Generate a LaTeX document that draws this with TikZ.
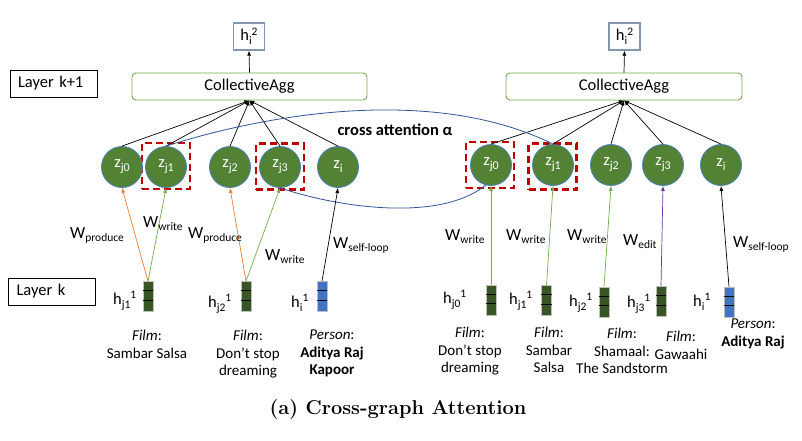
\documentclass[tikz,border=0pt]{standalone}
\usepackage{fontspec}
\newfontfamily\calfont{Carlito}
\usetikzlibrary{arrows.meta,calc}
\definecolor{zgreen}{HTML}{548235}
\definecolor{zborder}{HTML}{4A7EBB}
\definecolor{bargreen}{HTML}{375623}
\definecolor{barblue}{HTML}{4472C4}
\definecolor{agggreen}{HTML}{70AD47}
\definecolor{arrorange}{HTML}{ED7D31}
\definecolor{arrgreen}{HTML}{70AD47}
\definecolor{arrpurple}{HTML}{7030A0}
\definecolor{dashred}{HTML}{C00000}
\definecolor{curveblue}{HTML}{2F5597}
\definecolor{hboxgray}{HTML}{8497B0}
\newcommand{\Wlab}[1]{{\fontsize{17}{17}\selectfont W}\raisebox{-3.5pt}{\fontsize{11.5}{11.5}\selectfont #1}}
\newcommand{\zlab}[1]{{\fontsize{16.5}{16.5}\selectfont z}\raisebox{-4pt}{\fontsize{12}{12}\selectfont #1}}
\newcommand{\hlab}[2]{{\fontsize{16.5}{16.5}\selectfont h}\raisebox{-4pt}{\fontsize{11.5}{11.5}\selectfont #1}\raisebox{5.5pt}{\fontsize{11.5}{11.5}\selectfont #2}}
\tikzset{
  every node/.style={font=\calfont},
  layerbox/.style={draw=black, line width=0.9pt, minimum height=27pt, text width=71pt, inner xsep=8pt, align=left, font=\calfont\fontsize{16.5}{18}\selectfont},
  aggbox/.style={draw=agggreen, line width=0.9pt, rounded corners=4pt, minimum height=27pt, font=\calfont\fontsize{16.5}{18}\selectfont},
  hbox/.style={draw=hboxgray, line width=1.3pt, minimum width=31pt, minimum height=27pt, inner sep=0pt},
  zcirc/.style={circle, fill=zgreen, draw=zborder, line width=0.8pt, minimum size=41pt, inner sep=0pt, text=white},
  redbox/.style={draw=dashred, line width=2.4pt, dash pattern=on 7pt off 4pt, minimum width=48pt, minimum height=46pt},
  featbar/.style={minimum width=10pt, minimum height=30pt, inner sep=0pt, draw=black!25, line width=0.6pt},
  conn/.style={line width=0.7pt, -{Latex[length=5pt,width=4pt]}},
  wlabel/.style={anchor=base west, inner sep=0pt},
  hlabel/.style={anchor=base west, inner sep=0pt},
  entity/.style={anchor=north, align=center, inner sep=0pt, font=\calfont\fontsize{15}{17.5}\selectfont},
}
\newcommand{\barlines}[1]{%
  \draw[line width=1pt] ($(#1.north west)!0.31!(#1.south west)$) -- ($(#1.north east)!0.31!(#1.south east)$);
  \draw[line width=1pt] ($(#1.north west)!0.62!(#1.south west)$) -- ($(#1.north east)!0.62!(#1.south east)$);}
\begin{document}
\begin{tikzpicture}[x=1pt,y=-1pt]
\useasboundingbox (0,0) rectangle (802,440);
% layer boxes
\node[layerbox] (lk1) at (53.5,83.5) {Layer k+1};
\node[layerbox] (lk) at (52,291.5) {Layer k};
% aggregation boxes
\node[aggbox, minimum width=235pt] (aggL) at (249.5,86.5) {CollectiveAgg};
\node[aggbox, minimum width=236pt] (aggR) at (624,86.5) {CollectiveAgg};
\node[hbox] (hL) at (249,36.5) {\hlab{i}{2}};
\node[hbox] (hR) at (624.5,36.5) {\hlab{i}{2}};
\draw[conn] (aggL.north) -- (hL.south);
\draw[conn] (aggR.north) -- (hR.south);
% red dashed boxes
\node[redbox] (rL1) at (166,166) {};
\node[redbox] (rL3) at (280,166.5) {};
\node[redbox] (rR0) at (490,165) {};
\node[redbox] (rR1) at (552.5,166.5) {};
% circles
\node[zcirc] (zL0) at (122,167) {\zlab{j0}};
\node[zcirc] (zL1) at (166,167) {\zlab{j1}};
\node[zcirc] (zL2) at (230,167) {\zlab{j2}};
\node[zcirc] (zL3) at (280,167) {\zlab{j3}};
\node[zcirc] (zLi) at (338,167) {\zlab{i}};
\node[zcirc] (zR0) at (491,165) {\zlab{j0}};
\node[zcirc] (zR1) at (553,165) {\zlab{j1}};
\node[zcirc] (zR2) at (611,165) {\zlab{j2}};
\node[zcirc] (zR3) at (663,165) {\zlab{j3}};
\node[zcirc] (zRi) at (721,165) {\zlab{i}};
% circle -> agg
\foreach \n in {zL0,zL1,zL2,zL3,zLi} \draw[conn] (\n.north) -- (aggL.south);
\foreach \n in {zR0,zR1,zR2,zR3,zRi} \draw[conn] (\n.north) -- (aggR.south);
% cross attention curves
\draw[curveblue, line width=0.8pt] (zL1.north) .. controls (280,110) and (440,88) .. (zR1.north);
\draw[curveblue, line width=0.8pt] (zL3.south) .. controls (340,208) and (440,222) .. (zR0.-105);
\node[anchor=base, inner sep=0pt, font=\calfont\bfseries\fontsize{16.5}{18}\selectfont] (ca) at (395,135) {cross attention α};
% feature bars
\node[featbar, fill=bargreen] (bL1) at (148,296.5) {};
\node[featbar, fill=bargreen] (bL2) at (246,296.5) {};
\node[featbar, fill=barblue] (bLi) at (322,296.5) {};
\node[featbar, fill=bargreen] (bR0) at (491,300) {};
\node[featbar, fill=bargreen] (bR1) at (546.5,300.5) {};
\node[featbar, fill=bargreen] (bR2) at (604,302) {};
\node[featbar, fill=bargreen] (bR3) at (661,301.5) {};
\node[featbar, fill=barblue] (bRi) at (729,302) {};
\foreach \b in {bL1,bL2,bLi,bR0,bR1,bR2,bR3,bRi} {\barlines{\b}}
% bar -> circle arrows
\draw[conn, arrorange] (bL1.north) -- (zL0.south);
\draw[conn, arrgreen] (bL1.north) -- (zL1.south);
\draw[conn, arrorange] (bL2.north) -- (zL2.south);
\draw[conn, arrgreen] (bL2.north) -- (zL3.south);
\draw[conn, black] (bLi.north) -- (zLi.south);
\draw[conn, arrgreen] (bR0.north) -- (zR0.south);
\draw[conn, arrgreen] (bR1.north) -- (zR1.south);
\draw[conn, arrgreen] (bR2.north) -- (zR2.south);
\draw[conn, arrpurple] (bR3.north) -- (zR3.south);
\draw[conn, black] (bRi.north) -- (zRi.south);
% W labels
\node[wlabel] (w1) at (70,238) {\Wlab{produce}};
\node[wlabel] (w2) at (143,227) {\Wlab{write}};
\node[wlabel] (w3) at (188,238) {\Wlab{produce}};
\node[wlabel] (w4) at (265,260) {\Wlab{write}};
\node[wlabel] (w5) at (333,248) {\Wlab{self-loop}};
\node[wlabel] (w6) at (445,240) {\Wlab{write}};
\node[wlabel] (w7) at (506,240) {\Wlab{write}};
\node[wlabel] (w8) at (567,240) {\Wlab{write}};
\node[wlabel] (w9) at (623,245) {\Wlab{edit}};
\node[wlabel] (w10) at (733,247) {\Wlab{self-loop}};
% h labels
\node[hlabel] (hl1) at (113,304) {\hlab{j1}{1}};
\node[hlabel] (hl2) at (208,307) {\hlab{j2}{1}};
\node[hlabel] (hl3) at (291,307) {\hlab{i}{1}};
\node[hlabel] (hr0) at (443,303) {\hlab{j0}{1}};
\node[hlabel] (hr1) at (509,304) {\hlab{j1}{1}};
\node[hlabel] (hr2) at (569,306) {\hlab{j2}{1}};
\node[hlabel] (hr3) at (627,307) {\hlab{j3}{1}};
\node[hlabel] (hri) at (693,306) {\hlab{i}{1}};
% entity labels
\node[entity] (e1) at (147,330) {\textit{Film}:\\Sambar Salsa};
\node[entity] (e2) at (248,330) {\textit{Film}:\\Don’t stop\\dreaming};
\node[entity] (e3) at (332,330) {\textit{Person}:\\\textbf{Aditya Raj}\\\textbf{Kapoor}};
\node[entity] (e4) at (470,327) {\textit{Film}:\\Don’t stop\\dreaming};
\node[entity] (e5) at (549,327) {\textit{Film}:\\Sambar\\Salsa};
\node[entity] (e6) at (622,328) {\textit{Film}:\\Shamaal:\\The Sandstorm};
\node[entity] (e7) at (681,331) {\textit{Film}:\\Gawaahi};
\node[entity] (e8) at (753,319) {\textit{Person}:\\\textbf{Aditya Raj}};
% caption
\node[anchor=base, inner sep=0pt, font=\rmfamily\bfseries\fontsize{20}{22}\selectfont] (cap) at (398,414) {(a) Cross-graph Attention};
\end{tikzpicture}
\end{document}
